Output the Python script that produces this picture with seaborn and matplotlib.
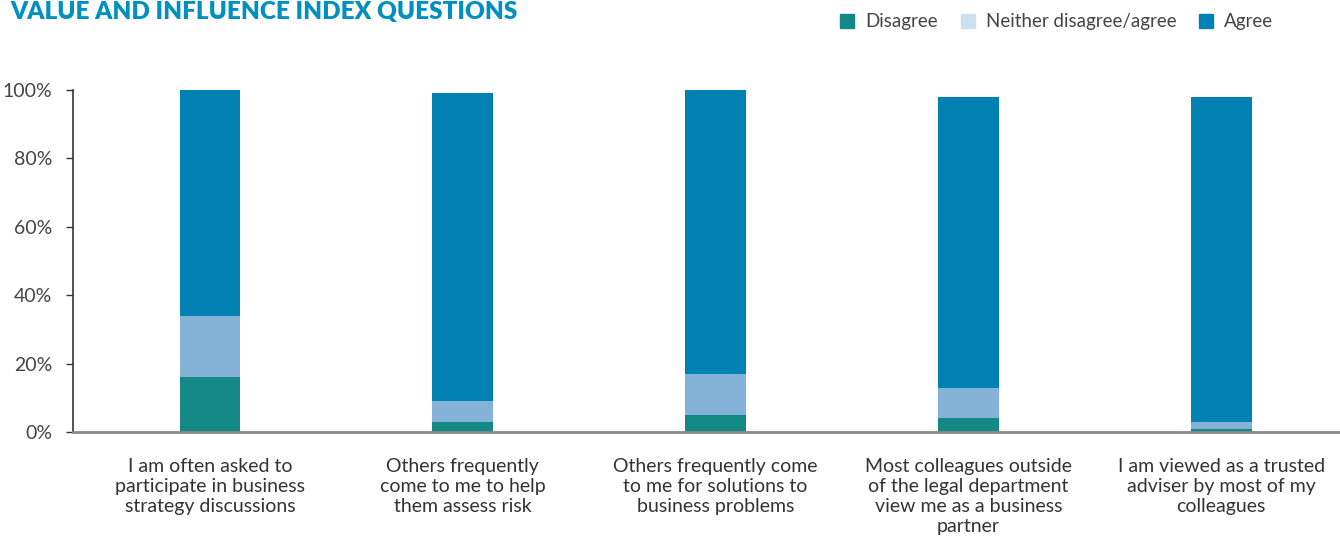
import matplotlib
matplotlib.use("Agg")
import matplotlib.pyplot as plt
import seaborn as sns
import numpy as np
import pandas as pd
from matplotlib.patches import Patch

categories = [
    "I am often asked to\nparticipate in business\nstrategy discussions",
    "Others frequently\ncome to me to help\nthem assess risk",
    "Others frequently come\nto me for solutions to\nbusiness problems",
    "Most colleagues outside\nof the legal department\nview me as a business\npartner",
    "I am viewed as a trusted\nadviser by most of my\ncolleagues",
]
disagree = [16, 3, 5, 4, 1]
neither = [18, 6, 12, 9, 2]
agree = [66, 90, 83, 85, 95]
yticks = [0, 20, 40, 60, 80, 100]
ytick_labels = ["0%", "20%", "40%", "60%", "80%", "100%"]
series_names = ["Disagree", "Neither disagree/agree", "Agree"]

c_dis = "#138884"
c_nei = "#85B3D8"
c_nei_leg = "#CCDFEE"
c_agr = "#0080B3"

sns.set_style("white")
plt.rcParams["font.family"] = ["Lato", "DejaVu Sans"]

df = pd.DataFrame({"cat": categories, "dis": disagree, "nei": neither, "agr": agree})
df["lvl1"] = df["dis"]
df["lvl2"] = df["dis"] + df["nei"]
df["lvl3"] = df["dis"] + df["nei"] + df["agr"]

fig = plt.figure(figsize=(13.4, 5.36), dpi=100)
ax = fig.add_axes([73 / 1340, (536 - 432) / 536, 1 - 73 / 1340, (432 - 90) / 536])

w = 0.24
sns.barplot(data=df, x="cat", y="lvl3", color=c_agr, width=w, saturation=1, ax=ax, linewidth=0)
sns.barplot(data=df, x="cat", y="lvl2", color=c_nei, width=w, saturation=1, ax=ax, linewidth=0)
sns.barplot(data=df, x="cat", y="lvl1", color=c_dis, width=w, saturation=1, ax=ax, linewidth=0)

ax.set_xlim(-0.542, 4.47)
ax.set_ylim(0, 100)
ax.set_yticks(yticks)
ax.set_yticklabels(ytick_labels, fontsize=14, color="#444444")
ax.tick_params(axis="y", direction="out", length=5, width=1, color="#333333", pad=10, left=True)
ax.tick_params(axis="x", length=0, pad=19, labelsize=14, labelcolor="#333333")
ax.set_xticks(range(len(categories)))
ax.set_xticklabels(categories, linespacing=1.2)
ax.set_xlabel("")
ax.set_ylabel("")
for s in ["top", "right"]:
    ax.spines[s].set_visible(False)
ax.spines["left"].set_color("#333333")
ax.spines["left"].set_linewidth(1.2)
ax.spines["bottom"].set_color("#888888")
ax.spines["bottom"].set_linewidth(2)
ax.grid(False)

handles = [Patch(color=c_dis), Patch(color=c_nei_leg), Patch(color=c_agr)]
fig.legend(handles, series_names, loc="center right", bbox_to_anchor=(1281 / 1340, 1 - 22 / 536),
           ncol=3, frameon=False, fontsize=13.5, handlelength=0.75, handleheight=0.75,
           handletextpad=0.6, columnspacing=1.2, labelcolor="#444444", borderaxespad=0)

fig.text(10 / 1340, 1 - 12 / 536, "VALUE AND INFLUENCE INDEX QUESTIONS", fontsize=17.5,
         fontweight="heavy", color="#0090C0", ha="left", va="center")

fig.savefig("out.png", dpi=100)
